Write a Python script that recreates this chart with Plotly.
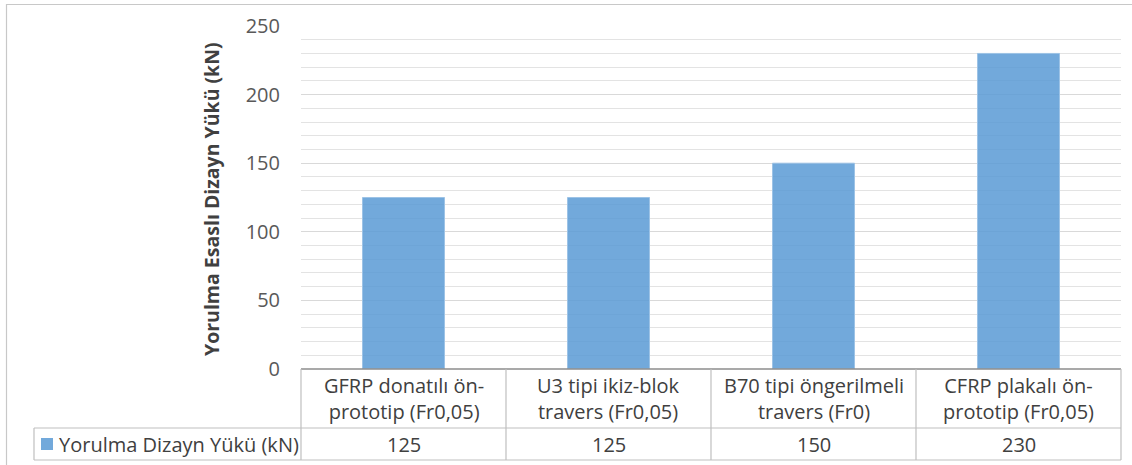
import plotly.graph_objects as go

categories = ["GFRP donatılı ön-<br>prototip (Fr0,05)",
              "U3 tipi ikiz-blok<br>travers (Fr0,05)",
              "B70 tipi öngerilmeli<br>travers (Fr0)",
              "CFRP plakalı ön-<br>prototip (Fr0,05)"]
values = [125, 125, 150, 230]
series_name = "Yorulma Dizayn Yükü (kN)"
y_title = "Yorulma Esaslı Dizayn Yükü (kN)"
y_ticks = [0, 50, 100, 150, 200, 250]

W, H = 1132, 465
L, R, T, B = 301, 11, 26, 96
PH = H - T - B
PW = W - L - R

def px(xp):
    return (xp - L) / PW

def py(yp):
    return (H - B - yp) / PH

FONT = "Open Sans"
TXT = "#404040"
GRID_LINE = "#bfbfbf"
FS = 20

fig = go.Figure()
fig.add_trace(go.Bar(
    x=list(range(len(categories))), y=values, name=series_name, width=0.4,
    marker=dict(color="rgba(91,155,213,0.86)", line=dict(color="rgba(157,195,230,1)", width=1)),
))

shapes = []
# outer frame
shapes.append(dict(type="rect", xref="paper", yref="paper", x0=px(6.5), x1=px(1145), y0=py(4.5), y1=py(480),
                   line=dict(color="#c8c8c8", width=1.2), fillcolor="rgba(0,0,0,0)", layer="below"))
# category axis line
shapes.append(dict(type="line", xref="paper", yref="paper", x0=0, x1=1, y0=py(369), y1=py(369),
                   line=dict(color="#8c8c8c", width=1.5)))
# table horizontal lines
for yy in (428, 460):
    shapes.append(dict(type="line", xref="paper", yref="paper", x0=px(34), x1=1, y0=py(yy), y1=py(yy),
                       line=dict(color=GRID_LINE, width=1.2)))
# table vertical lines
for i in range(len(categories) + 1):
    xx = 301 + 205 * i
    shapes.append(dict(type="line", xref="paper", yref="paper", x0=px(xx), x1=px(xx), y0=py(369), y1=py(460),
                       line=dict(color=GRID_LINE, width=1.2)))
shapes.append(dict(type="line", xref="paper", yref="paper", x0=px(34), x1=px(34), y0=py(428), y1=py(460),
                   line=dict(color=GRID_LINE, width=1.2)))
# legend key
shapes.append(dict(type="rect", xref="paper", yref="paper", x0=px(41), x1=px(53), y0=py(438), y1=py(450),
                   line=dict(width=0), fillcolor="rgba(91,155,213,0.86)"))

annotations = []
for i, (c, v) in enumerate(zip(categories, values)):
    annotations.append(dict(x=i, xref="x", y=py(398), yref="paper", text=c, showarrow=False,
                            font=dict(family=FONT, size=FS, color=TXT), xanchor="center", yanchor="middle"))
    annotations.append(dict(x=i, xref="x", y=py(444), yref="paper", text=str(v), showarrow=False,
                            font=dict(family=FONT, size=FS, color=TXT), xanchor="center", yanchor="middle"))
annotations.append(dict(x=px(57), xref="paper", y=py(444), yref="paper", text=series_name, showarrow=False,
                        font=dict(family=FONT, size=FS, color=TXT), xanchor="left", yanchor="middle"))
annotations.append(dict(x=px(212), xref="paper", y=py(199), yref="paper", text="<b>" + y_title + "</b>",
                        showarrow=False, textangle=-90,
                        font=dict(family=FONT, size=19.5, color=TXT), xanchor="center", yanchor="middle"))

fig.update_layout(
    width=W, height=H,
    margin=dict(l=L, r=R, t=T, b=B),
    paper_bgcolor="white", plot_bgcolor="white",
    showlegend=False,
    bargap=0.6,
    xaxis=dict(range=[-0.5, len(categories) - 0.5], showticklabels=False, showgrid=False,
               zeroline=False, showline=False, ticks=""),
    yaxis=dict(range=[0, 250], tickvals=y_ticks, showgrid=True, gridcolor="#d9d9d9", gridwidth=1,
               minor=dict(dtick=10, showgrid=True, gridcolor="#e3e3e3", gridwidth=1),
               zeroline=False, showline=False, ticks="", ticklabelstandoff=20,
               tickfont=dict(family=FONT, size=20, color="#595959")),
    shapes=shapes, annotations=annotations,
)

fig.write_html("out.html", config={"displayModeBar": False},
               post_script="document.body.style.margin='0';document.body.style.overflow='hidden';")
